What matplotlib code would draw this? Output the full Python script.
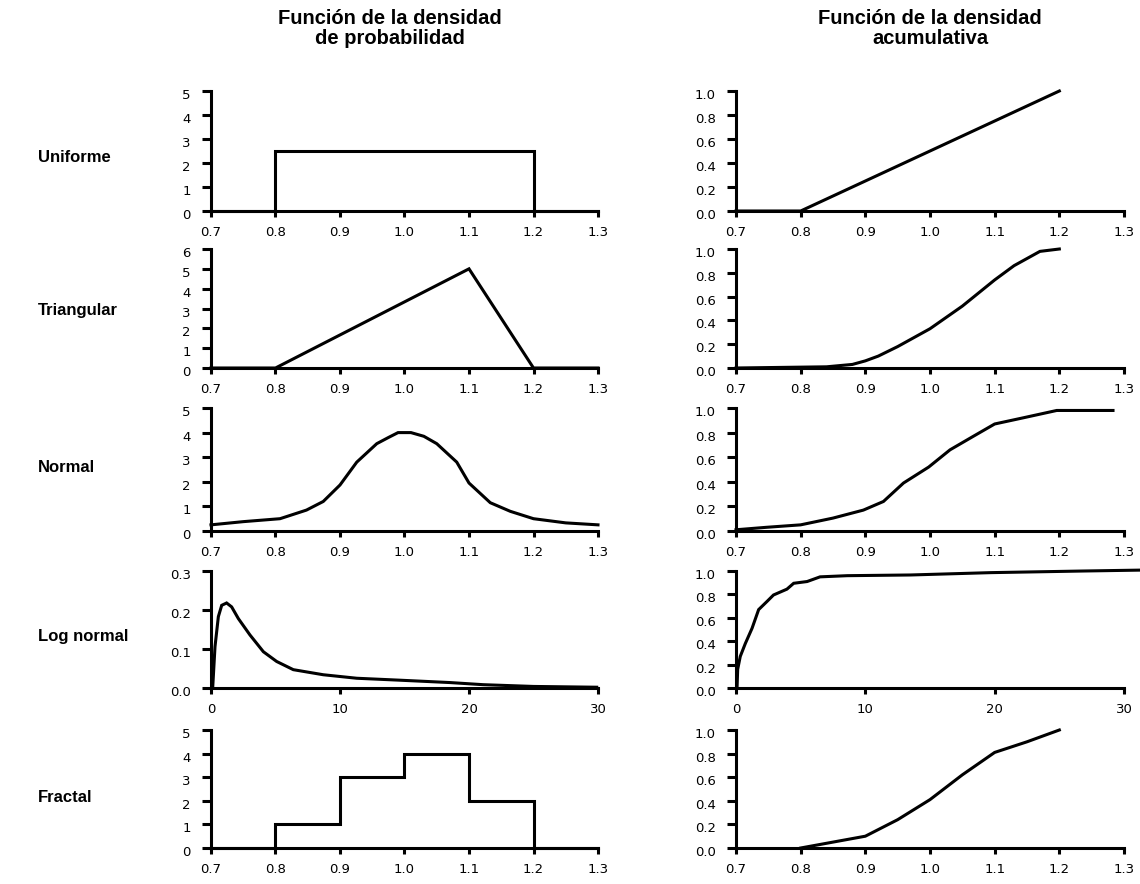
import matplotlib
matplotlib.use("Agg")
import matplotlib.pyplot as plt
import matplotlib.transforms as mtransforms

plt.rcParams['font.family'] = ['Liberation Sans', 'DejaVu Sans']

# valores
x_ticks_std = [0.7, 0.8, 0.9, 1.0, 1.1, 1.2, 1.3]
x_ticks_log = [0, 10, 20, 30]
cdf_ticks = [0.0, 0.2, 0.4, 0.6, 0.8, 1.0]

# Uniforme
uni_pdf_x = [0.7, 0.8, 0.8, 1.2, 1.2, 1.3]
uni_pdf_y = [0, 0, 2.5, 2.5, 0, 0]
uni_cdf_x = [0.7, 0.8, 1.2]
uni_cdf_y = [0, 0, 1.0]

# Triangular
tri_pdf_x = [0.7, 0.8, 1.1, 1.2, 1.3]
tri_pdf_y = [0, 0, 5.0, 0, 0]
tri_cdf_x = [0.7, 0.84, 0.88, 0.9, 0.92, 0.95, 1.0, 1.05, 1.1, 1.13, 1.15, 1.17, 1.2]
tri_cdf_y = [0, 0.01, 0.03, 0.06, 0.1, 0.18, 0.33, 0.52, 0.74, 0.86, 0.92, 0.98, 1.0]

# Normal
nor_pdf_x = [0.7, 0.75, 0.807, 0.848, 0.874, 0.9, 0.926, 0.957, 0.975, 0.99, 1.01,
             1.03, 1.05, 1.081, 1.1, 1.133, 1.164, 1.2, 1.25, 1.3]
nor_pdf_y = [0.25, 0.38, 0.5, 0.85, 1.2, 1.87, 2.8, 3.55, 3.8, 4.0, 4.0,
             3.85, 3.55, 2.8, 1.95, 1.15, 0.8, 0.5, 0.33, 0.25]
nor_cdf_x = [0.7, 0.747, 0.8, 0.85, 0.897, 0.928, 0.959, 0.998, 1.031, 1.067,
             1.1, 1.144, 1.196, 1.283]
nor_cdf_y = [0.01, 0.03, 0.05, 0.105, 0.17, 0.24, 0.39, 0.52, 0.66, 0.77,
             0.87, 0.92, 0.98, 0.98]

# Log normal
log_pdf_x = [0.05, 0.13, 0.31, 0.57, 0.83, 1.21, 1.6, 2.12, 3.02, 4.06, 5.09, 6.38,
             8.7, 11.3, 14.65, 18.5, 21.1, 25.0, 29.9]
log_pdf_y = [0, 0, 0.106, 0.183, 0.212, 0.218, 0.208, 0.178, 0.136, 0.093, 0.068, 0.047,
             0.034, 0.025, 0.02, 0.014, 0.0085, 0.004, 0.002]
log_cdf_x = [0.08, 0.13, 0.33, 0.72, 1.24, 1.75, 2.4, 2.9, 3.94, 4.46, 5.5, 6.5,
             8.6, 13.5, 19.7, 26.9, 31.5]
log_cdf_y = [0, 0.16, 0.27, 0.38, 0.51, 0.67, 0.74, 0.795, 0.845, 0.895, 0.91, 0.95,
             0.96, 0.966, 0.986, 1.0, 1.008]

# Fractal
fra_pdf_x = [0.7, 0.8, 0.8, 0.9, 0.9, 1.0, 1.0, 1.1, 1.1, 1.2, 1.2, 1.3]
fra_pdf_y = [0, 0, 1, 1, 3, 3, 4, 4, 2, 2, 0, 0]
fra_cdf_x = [0.8, 0.85, 0.9, 0.95, 1.0, 1.05, 1.1, 1.15, 1.2]
fra_cdf_y = [0.0, 0.05, 0.1, 0.24, 0.41, 0.62, 0.81, 0.9, 1.0]

row_names = ['Uniforme', 'Triangular', 'Normal', 'Log normal', 'Fractal']

W, H = 1140, 884
LW = 2.2

fig = plt.figure(figsize=(W / 100, H / 100), dpi=100)

# posiciones en pixeles (arriba, abajo) de cada fila
rows_px = [(91, 211), (249, 368), (408, 531), (571, 688), (730, 848)]
cols_px = [(211, 598), (736, 1124)]
label_y = [158, 310, 467, 637, 797]

# las etiquetas del eje y van un poco mas abajo que la marca
y_shift = mtransforms.ScaledTranslation(0, -3 / 100, fig.dpi_scale_trans)


def make_ax(col, row):
    x0, x1 = cols_px[col]
    top, bot = rows_px[row]
    ax = fig.add_axes([x0 / W, 1 - bot / H, (x1 - x0) / W, (bot - top) / H])
    for s in ['top', 'right']:
        ax.spines[s].set_visible(False)
    for s in ['left', 'bottom']:
        ax.spines[s].set_linewidth(LW)
    ax.tick_params(direction='out', width=LW, labelsize=9.5)
    ax.tick_params(axis='y', length=6.5, pad=8)
    ax.tick_params(axis='x', length=4.5, pad=6)
    return ax


def draw(ax, x, y, xlim, xt, ylim, yt, yfmt):
    ax.plot(x, y, color='black', lw=LW, clip_on=False, solid_joinstyle='miter')
    ax.set_xlim(*xlim)
    ax.set_ylim(*ylim)
    ax.set_xticks(xt)
    if xlim[1] < 5:
        ax.set_xticklabels([f'{v:.1f}' for v in xt], family='DejaVu Sans')
    else:
        ax.set_xticklabels([str(v) for v in xt], family='DejaVu Sans')
    ax.set_yticks(yt)
    ax.set_yticklabels([yfmt.format(v) for v in yt], family='DejaVu Sans')
    for lab in ax.get_yticklabels():
        lab.set_transform(lab.get_transform() + y_shift)


std = (0.7, 1.3)
logx = (0, 30)

pdfs = [
    (uni_pdf_x, uni_pdf_y, std, x_ticks_std, (0, 5), [0, 1, 2, 3, 4, 5], '{:d}'),
    (tri_pdf_x, tri_pdf_y, std, x_ticks_std, (0, 6), [0, 1, 2, 3, 4, 5, 6], '{:d}'),
    (nor_pdf_x, nor_pdf_y, std, x_ticks_std, (0, 5), [0, 1, 2, 3, 4, 5], '{:d}'),
    (log_pdf_x, log_pdf_y, logx, x_ticks_log, (0, 0.3), [0.0, 0.1, 0.2, 0.3], '{:.1f}'),
    (fra_pdf_x, fra_pdf_y, std, x_ticks_std, (0, 5), [0, 1, 2, 3, 4, 5], '{:d}'),
]
cdfs = [
    (uni_cdf_x, uni_cdf_y, std, x_ticks_std),
    (tri_cdf_x, tri_cdf_y, std, x_ticks_std),
    (nor_cdf_x, nor_cdf_y, std, x_ticks_std),
    (log_cdf_x, log_cdf_y, logx, x_ticks_log),
    (fra_cdf_x, fra_cdf_y, std, x_ticks_std),
]

for i in range(5):
    x, y, xl, xt, yl, yt, fmt = pdfs[i]
    ax = make_ax(0, i)
    draw(ax, x, y, xl, xt, yl, yt, fmt)

    x, y, xl, xt = cdfs[i]
    ax = make_ax(1, i)
    draw(ax, x, y, xl, xt, (0, 1.0), cdf_ticks, '{:.1f}')

    fig.text(38 / W, 1 - label_y[i] / H, row_names[i], fontsize=12,
             fontweight='bold', ha='left', va='center')

fig.text(390 / W, 1 - 9 / H, 'Función de la densidad\nde probabilidad', fontsize=14.5,
         fontweight='bold', ha='center', va='top', multialignment='center',
         linespacing=1.05)
fig.text(930 / W, 1 - 9 / H, 'Función de la densidad\nacumulativa', fontsize=14.5,
         fontweight='bold', ha='center', va='top', multialignment='center',
         linespacing=1.05)

fig.savefig('out.png', dpi=100)
